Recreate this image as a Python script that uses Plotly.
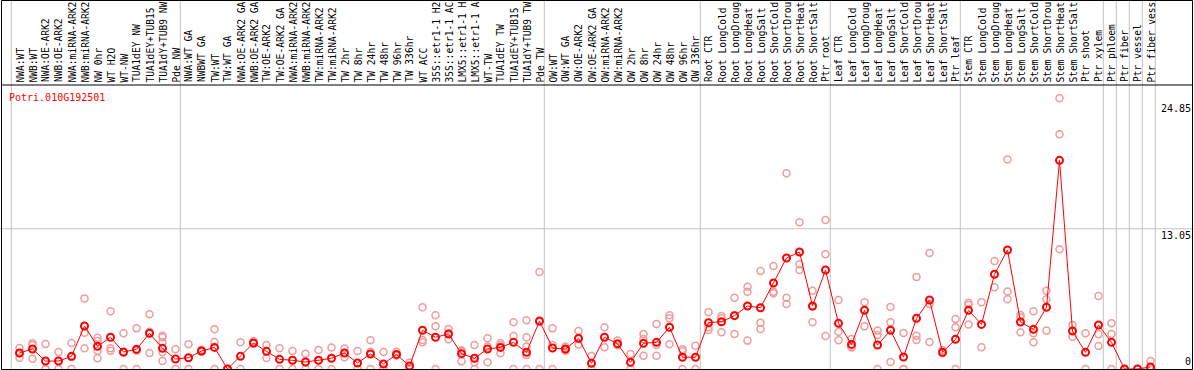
import plotly.graph_objects as go

labels = [
    "NWA:WT", "NWB:WT", "NWA:OE-ARK2", "NWB:OE-ARK2", "NWA:miRNA-ARK2", "NWB:miRNA-ARK2",
    "NW 0hr", "WT H2O", "WT-NW", "TUA1dEY NW", "TUA1dEY+TUB15", "TUA1dY+TUB9 NW", "Pde NW",
    "NWA:WT GA", "NWBWT GA", "TW:WT", "TW:WT GA", "NWA:OE-ARK2 GA", "NWB:OE-ARK2 GA",
    "TW:OE-ARK2", "TW:OE-ARK2 GA", "NWA:miRNA-ARK2", "NWB:miRNA-ARK2", "TW:miRNA-ARK2",
    "TW:miRNA-ARK2", "TW 2hr", "TW 8hr", "TW 24hr", "TW 48hr", "TW 96hr", "TW 336hr",
    "WT ACC", "35S::etr1-1 H2", "35S::etr1-1 AC", "LMX5::etr1-1 H", "LMX5::etr1-1 A",
    "WT-TW", "TUA1dEY TW", "TUA1dEY+TUB15", "TUA1dY+TUB9 TW", "Pde TW",
    "OW:WT", "OW:WT GA", "OW:OE-ARK2", "OW:OE-ARK2 GA", "OW:miRNA-ARK2", "OW:miRNA-ARK2",
    "OW 2hr", "OW 8hr", "OW 24hr", "OW 48hr", "OW 96hr", "OW 336hr",
    "Root CTR", "Root LongCold", "Root LongDroug", "Root LongHeat", "Root LongSalt",
    "Root ShortCold", "Root ShortDrou", "Root ShortHeat", "Root ShortSalt", "Ptr root",
    "Leaf CTR", "Leaf LongCold", "Leaf LongDroug", "Leaf LongHeat", "Leaf LongSalt",
    "Leaf ShortCold", "Leaf ShortDrou", "Leaf ShortHeat", "Leaf ShortSalt", "Ptr leaf",
    "Stem CTR", "Stem LongCold", "Stem LongDroug", "Stem LongHeat", "Stem LongSalt",
    "Stem ShortCold", "Stem ShortDrou", "Stem ShortHeat", "Stem ShortSalt", "Ptr shoot",
    "Ptr xylem", "Ptr phloem", "Ptr fiber", "Ptr vessel", "Ptr fiber vess",
]

means = [
    1.49, 1.86, 0.74, 0.74, 1.18, 4.00, 2.11, 2.95, 1.58, 1.83, 3.32, 1.92, 0.93,
    1.05, 1.67, 2.01, 0.00, 1.18, 2.42, 1.64, 0.90, 0.81, 0.65, 0.81, 1.00, 1.49,
    0.56, 1.40, 0.47, 1.36, 0.28, 3.60, 2.95, 3.26, 1.43, 1.00, 1.86, 2.01, 2.48,
    1.55, 4.47, 1.95, 1.86, 2.85, 0.53, 2.95, 2.36, 0.62, 2.39, 2.48, 3.88, 1.09,
    1.09, 4.31, 4.40, 4.96, 5.86, 5.70, 8.00, 10.33, 10.88, 5.86, 9.21, 4.25, 2.29,
    5.46, 2.23, 3.60, 1.12, 4.71, 6.42, 1.55, 2.76, 5.46, 4.15, 8.81, 11.07, 4.37,
    3.69, 5.74, 19.41, 3.53, 1.55, 4.09, 2.48, 0.00, 0.00, 0.19,
]

replicates = [
    [1.95, 1.47, 1.05], [2.39, 2.23, 0.96], [2.33, 0, 0], [1.58, 0], [2.42, 1.12, 0],
    [6.57, 3.38, 1.92], [2.91, 2.6, 1.7, 1.0], [5.37, 1.92, 1.7], [3.32, 1.52, 0],
    [3.78, 1.71, 0], [5.09, 3.47, 1.49], [3.1, 2.95, 2.5, 1.55, 0.74], [1.83, 0],
    [2.3, 0], [1.8, 1.6, 1.6], [3.69, 2.51, 0], [0, 0], [2.48, 0], [2.6, 2.35],
    [2.23, 1.02], [1.92, 0], [1.67, 0], [1.43, 0], [1.77, 0], [2.01, 0], [1.9, 1.1],
    [1.67, 0, 0], [2.67, 1.6, 0], [1.58, 0, 0], [1.6, 1.25, 1.25], [0.6, 0],
    [5.74, 2.7, 2.48], [5.0, 3.97, 0], [3.72, 3.3, 2.76], [1.74, 1.63, 0.71],
    [2.23, 0.62, 0], [2.85, 2.1, 0.62], [2.39, 2.2, 1.46], [4.34, 3.07, 0],
    [4.53, 2.95, 2.1, 1.3, 0], [9.02, 4.4, 0], [3.78, 2.23, 0], [2.08, 1.8, 1.7],
    [3.53, 2.8, 2.29], [1.21, 0], [3.88, 2.02], [2.64, 2.2], [1.4, 0],
    [3.26, 2.8, 1.24], [4.19, 2.23, 1.24], [5.0, 4.71, 2.3], [1.83, 1.64, 0],
    [2.17, 0], [5.27, 3.88, 3.63], [4.93, 4.71, 3.41], [6.63, 5.0, 3.26],
    [7.66, 7.19, 2.64], [9.12, 4.31, 3.72], [9.58, 7.19, 7.04], [18.2, 6.63, 6.05],
    [13.65, 9.74, 9.21], [7.29, 5.8, 4.34], [13.86, 10.67, 3.07], [6.42, 3.47, 2.67],
    [2.79, 2.08, 2.0], [6.2, 3.97], [3.57, 3.16, 0], [5.77, 4.34, 0.65], [3.35, 0, 0],
    [8.56, 3.1, 2.7], [10.79, 6.05, 2.51], [1.77, 1.46], [4.65, 3.88, 0],
    [6.17, 5.98, 4.15], [6.2, 2.02], [10.05, 7.6], [19.5, 7.22, 6.48],
    [5.02, 4.81, 3.41], [5.37, 3.32, 2.48], [7.29, 6.48, 3.57], [25.18, 21.83, 11.13],
    [4.09, 3.01], [3.32, 0], [6.79, 3.23, 2.14], [4.25, 3.26, 0], [0, 0], [0, 0],
    [0.74, 0, 0],
]

group_ends = [0, 13, 41, 53, 63, 73, 84, 85, 86, 87, 88]
gene_id = "Potri.010G192501"
ytick_values = [24.85, 13.05, 0]

W, H = 1194, 370
TOP, BOT = 85, 1
plot_h = H - TOP - BOT
ymax = 26.42
cols = list(range(1, len(means) + 1))
xr = [-0.5, (W - 6.5) / 13.0]

def py(page_y):
    return (H - BOT - page_y) / plot_h

rx, ry = [], []
for c, reps in zip(cols, replicates):
    for v in reps:
        rx.append(c)
        ry.append(v)

fig = go.Figure()
fig.add_trace(go.Scatter(
    x=rx, y=ry, mode="markers", hoverinfo="skip",
    marker=dict(symbol="circle-open", size=7, color="#f09c9c", line=dict(width=1.5)),
))
fig.add_trace(go.Scatter(
    x=cols, y=means, mode="lines+markers",
    line=dict(color="#ff0000", width=1),
    marker=dict(symbol="circle-open", size=7, color="#ff0000", line=dict(width=2)),
))

shapes = []
for g in group_ends:
    shapes.append(dict(type="line", xref="x", yref="paper", x0=g + 0.37, x1=g + 0.37,
                       y0=py(H), y1=py(0), line=dict(color="#c4c4c4", width=1), layer="below"))
shapes.append(dict(type="line", xref="paper", yref="y", x0=0, x1=1, y0=13.05, y1=13.05,
                   line=dict(color="#c4c4c4", width=1), layer="below"))
shapes.append(dict(type="rect", xref="paper", yref="paper", x0=1.5 / W, x1=1192.5 / W,
                   y0=py(369.5), y1=py(0.5), line=dict(color="black", width=1)))
shapes.append(dict(type="line", xref="paper", yref="paper", x0=1.5 / W, x1=1192.5 / W,
                   y0=py(85), y1=py(85), line=dict(color="black", width=1)))

annotations = []
for c, lab in zip(cols, labels):
    annotations.append(dict(x=c, y=py(83.5), xref="x", yref="paper", text=lab, showarrow=False,
                            textangle=-90, xanchor="center", yanchor="bottom", borderpad=0,
                            font=dict(family="DejaVu Sans Mono", size=9.6, color="black")))
annotations.append(dict(x=8 / W, y=py(97.5), xref="paper", yref="paper", text=gene_id,
                        showarrow=False, xanchor="left", yanchor="middle", borderpad=0,
                        font=dict(family="DejaVu Sans Mono", size=10, color="#ff0000")))
for v in ytick_values:
    if v > 0:
        annotations.append(dict(x=1192 / W, y=v, xref="paper", yref="y", text=f"{v:.2f}",
                                showarrow=False, xanchor="right", yanchor="top", borderpad=0,
                                font=dict(family="DejaVu Sans Mono", size=10, color="black")))
    else:
        annotations.append(dict(x=1192 / W, y=v, xref="paper", yref="y", text="0",
                                showarrow=False, xanchor="right", yanchor="bottom", borderpad=0,
                                yshift=1,
                                font=dict(family="DejaVu Sans Mono", size=10, color="black")))

fig.update_layout(
    width=W, height=H, margin=dict(l=0, r=0, t=TOP, b=BOT, pad=0),
    paper_bgcolor="white", plot_bgcolor="white", showlegend=False,
    xaxis=dict(range=xr, visible=False, showgrid=False, zeroline=False, fixedrange=True),
    yaxis=dict(range=[0, ymax], visible=False, showgrid=False, zeroline=False, fixedrange=True),
    shapes=shapes, annotations=annotations, hovermode=False,
)
fig.write_html(
    "out.html",
    config={"displayModeBar": False},
    post_script="document.body.style.margin='0';document.body.style.overflow='hidden';",
)
